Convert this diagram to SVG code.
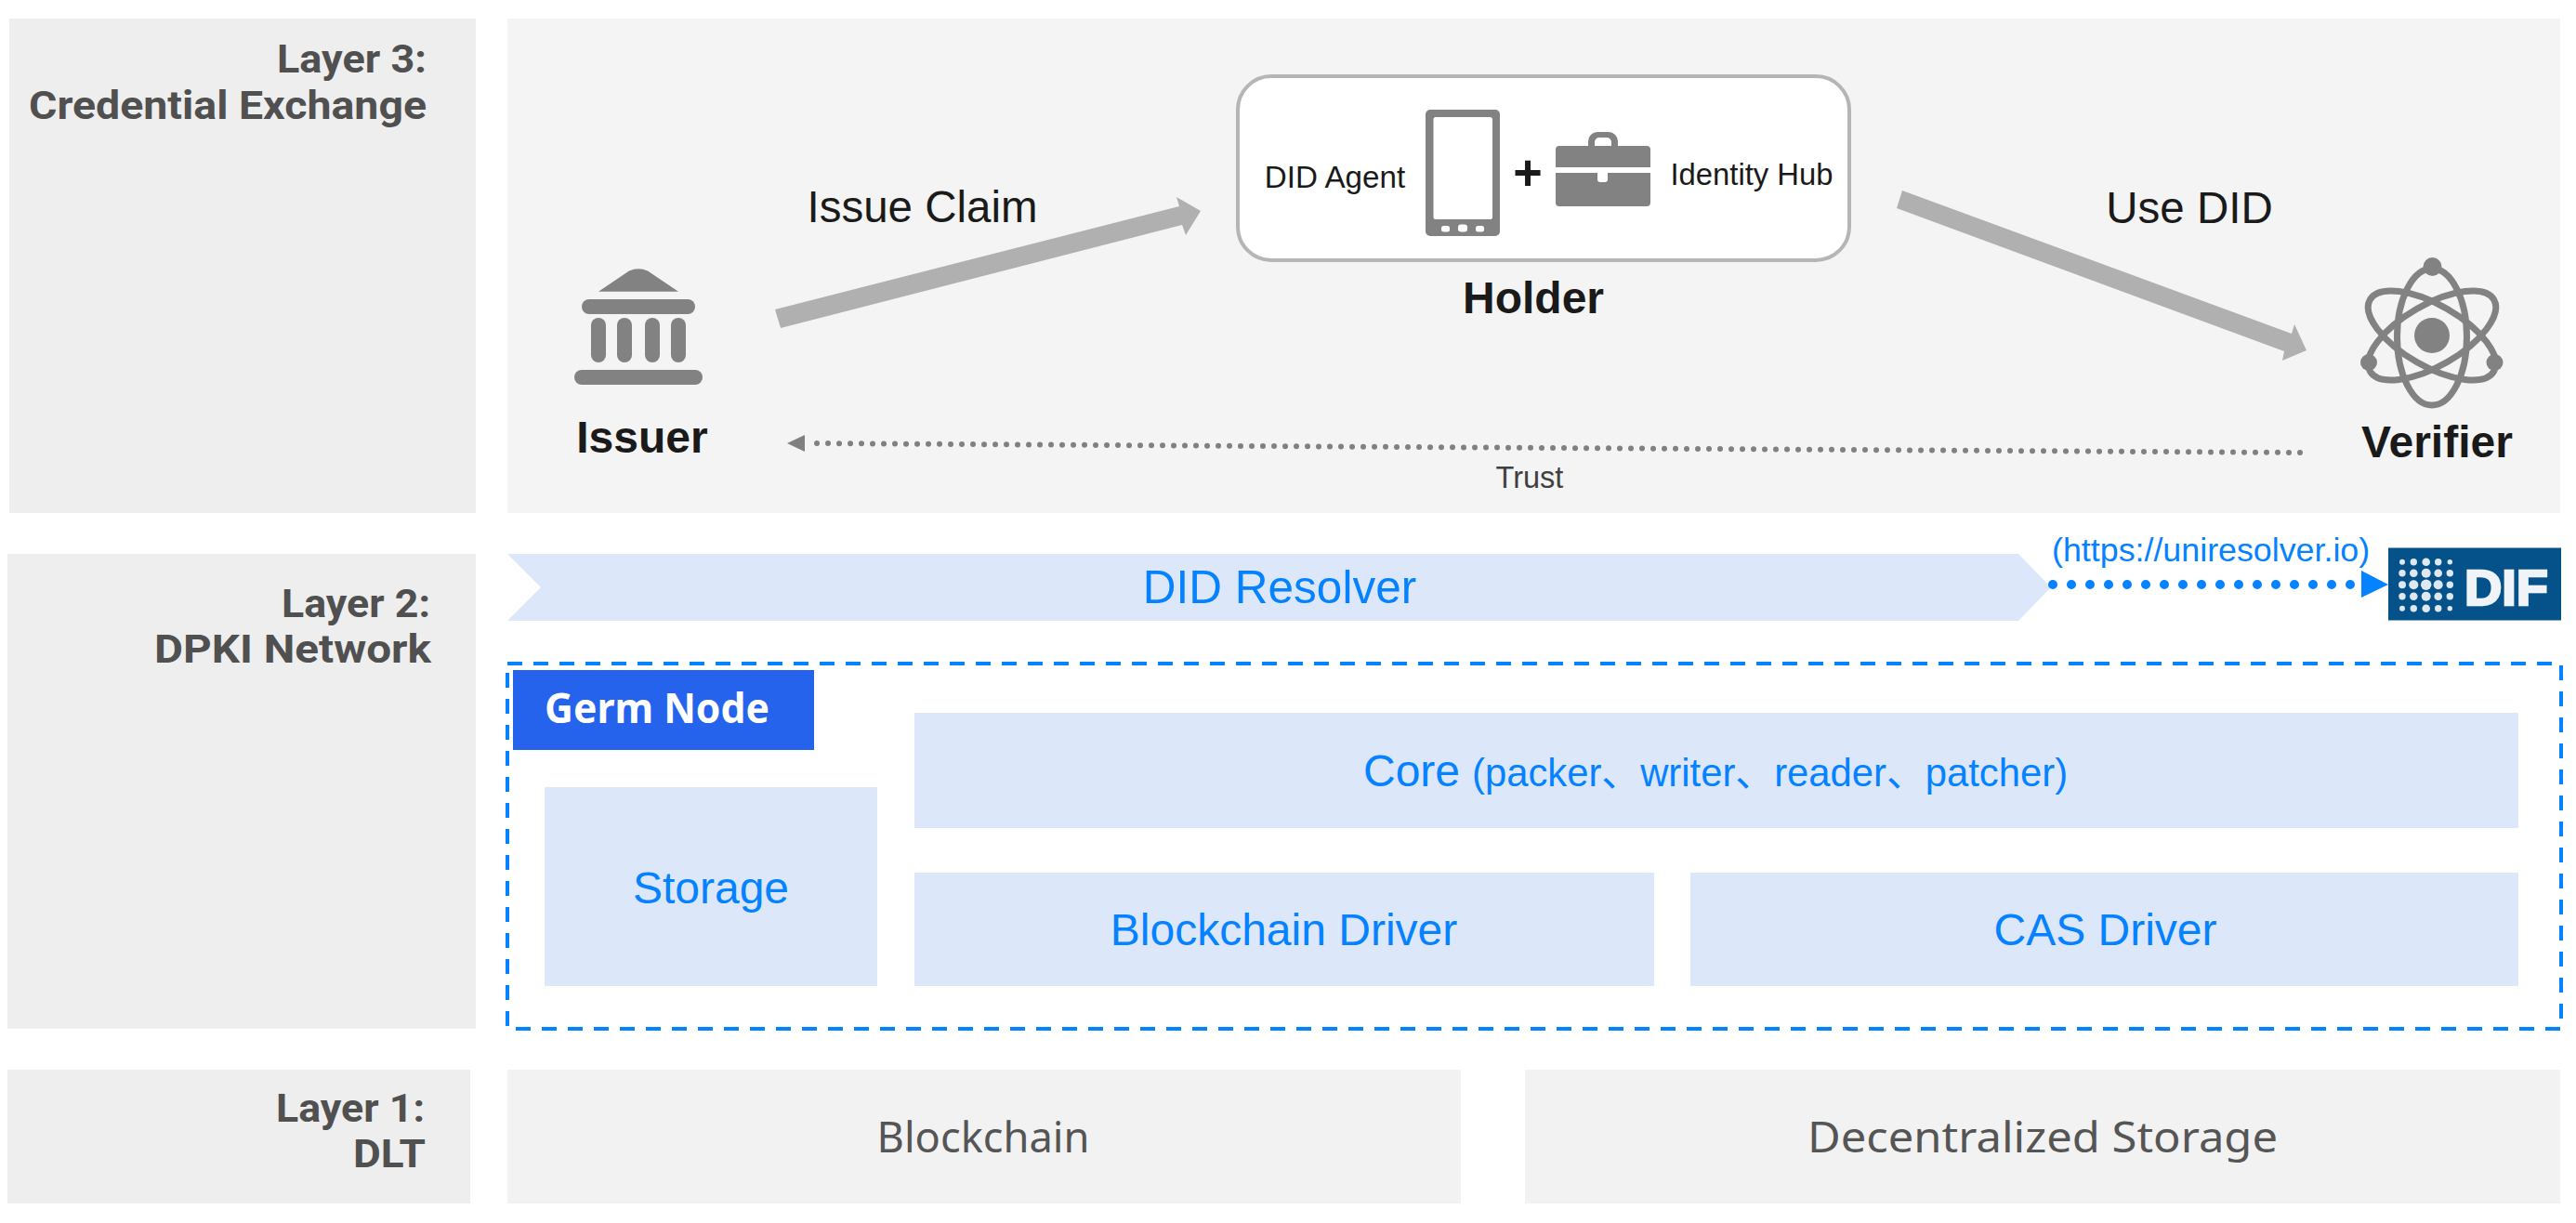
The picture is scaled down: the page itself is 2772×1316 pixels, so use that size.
<svg xmlns="http://www.w3.org/2000/svg" width="2772" height="1316" viewBox="0 0 2772 1316">
<style>
text{font-family:"Liberation Sans",Arial,sans-serif}
.lay{font-family:Roboto,"Noto Sans",sans-serif;font-weight:700;font-size:43px;fill:#505050;text-anchor:end}
.side{fill:#eeeeee}
.main{fill:#f4f4f4}
.dlt{fill:#f2f2f2}
.dltt{font-family:"Noto Sans","Open Sans",sans-serif;font-size:46px;fill:#555555;text-anchor:middle}
.soft{fill:#dce7fa}
.blue{fill:#0582ff;font-size:48px;text-anchor:middle}
.dark{fill:#1a1a1a;text-anchor:middle}
.actor{font-weight:700;font-size:48px}
.edge{font-size:47.500px}
.sm{font-size:33.200px}
.ic{fill:#828282}
.orb{fill:none;stroke:#828282;stroke-width:7}
.arrow{fill:#b0b0b0}
.d{fill:#dfe8f0}
</style>
<rect width="2772" height="1316" fill="#ffffff"/>

<g id="layer3">
  <rect class="side" x="10" y="20" width="502" height="532"/>
  <rect class="main" x="546" y="20" width="2209" height="532"/>
  <text class="lay" x="459" y="78" textLength="161" lengthAdjust="spacingAndGlyphs">Layer 3:</text>
  <text class="lay" x="459" y="128" textLength="428" lengthAdjust="spacingAndGlyphs">Credential Exchange</text>
</g>
<g id="layer2">
  <rect class="side" x="8" y="596" width="504" height="511"/>
  <text class="lay" x="463" y="664" textLength="160" lengthAdjust="spacingAndGlyphs">Layer 2:</text>
  <text class="lay" x="464" y="713" textLength="298" lengthAdjust="spacingAndGlyphs">DPKI Network</text>
</g>
<g id="layer1">
  <rect class="side" x="8" y="1151" width="498" height="144"/>
  <text class="lay" x="457" y="1207" textLength="160" lengthAdjust="spacingAndGlyphs">Layer 1:</text>
  <text class="lay" x="458" y="1256" textLength="78" lengthAdjust="spacingAndGlyphs">DLT</text>
</g>

<g id="issuer">
  <path class="ic" d="M644,313.700H730L697,291.500Q687,287 677,291.500Z"/>
  <rect class="ic" x="626" y="322" width="122" height="16" rx="8"/>
  <rect class="ic" x="636" y="342" width="16" height="48" rx="8"/>
  <rect class="ic" x="664" y="342" width="16" height="48" rx="8"/>
  <rect class="ic" x="694" y="342" width="16" height="48" rx="8"/>
  <rect class="ic" x="722" y="342" width="16" height="48" rx="8"/>
  <rect class="ic" x="618" y="398" width="138" height="16" rx="8"/>
  <text class="dark actor" x="691" y="487">Issuer</text>
</g>

<g id="holder">
  <rect x="1332" y="82" width="658" height="198" rx="36" fill="#ffffff" stroke="#b5b5b5" stroke-width="4"/>
  <text class="dark sm" x="1436.500" y="202">DID Agent</text>
  <path class="ic" fill-rule="evenodd" d="M1539,118H1609a5,5 0 0 1 5,5V249a5,5 0 0 1 -5,5H1539a5,5 0 0 1 -5,-5V123a5,5 0 0 1 5,-5ZM1545,126a2.500,2.500 0 0 0 -2.500,2.500V233.500a2.500,2.500 0 0 0 2.500,2.500H1603.500a2.500,2.500 0 0 0 2.500,-2.500V128.500a2.500,2.500 0 0 0 -2.500,-2.500Z"/>
  <rect x="1551" y="243" width="9" height="6.500" rx="2.500" fill="#ffffff"/>
  <rect x="1569" y="241.500" width="10" height="8" rx="3" fill="#ffffff"/>
  <rect x="1588" y="243" width="9" height="6.500" rx="2.500" fill="#ffffff"/>
  <text class="dark" x="1644" y="204" font-size="54" font-weight="700">+</text>
  <path class="ic" fill-rule="evenodd" d="M1709,157V152a10,10 0 0 1 10,-10H1731a10,10 0 0 1 10,10V157H1734V153a5,5 0 0 0 -5,-5H1721a5,5 0 0 0 -5,5V157Z"/>
  <path class="ic" d="M1678,157H1772a4,4 0 0 1 4,4V180H1674V161a4,4 0 0 1 4,-4Z"/>
  <path class="ic" d="M1674,186H1719V193a3,3 0 0 0 3,3H1727a3,3 0 0 0 3,-3V186H1776V218a4,4 0 0 1 -4,4H1678a4,4 0 0 1 -4,-4Z"/>
  <text class="dark sm" x="1885" y="199" style="font-size:32.800px">Identity Hub</text>
  <text class="dark actor" x="1650" y="337">Holder</text>
</g>

<g id="verifier">
  <g transform="translate(2617,361)">
    <ellipse class="orb" cy="1.500" rx="37.500" ry="73.500"/>
    <ellipse class="orb" rx="33" ry="77" transform="rotate(60)"/>
    <ellipse class="orb" rx="33" ry="77" transform="rotate(-60)"/>
    <circle class="ic" r="19"/>
    <circle class="ic" cx="0.500" cy="-74" r="10"/>
    <circle class="ic" cx="-68" cy="29" r="9"/>
    <circle class="ic" cx="67.500" cy="29" r="9"/>
  </g>
  <text class="dark actor" x="2622.500" y="492">Verifier</text>
</g>

<g id="did-resolver">
  <path class="soft" d="M546,596H2172L2207,632L2172,668H546L582,632Z"/>
  <text class="blue" x="1377" y="649" style="font-size:49.500px">DID Resolver</text>
</g>

<g id="dif">
  <rect x="2570" y="589.500" width="186" height="78" fill="#05528a"/>
  <g class="d">
    <circle cx="2585" cy="604.700" r="3"/><circle cx="2597.300" cy="604.700" r="3.700"/><circle cx="2610.700" cy="604.700" r="4.300"/><circle cx="2623.700" cy="604.700" r="3.700"/><circle cx="2636.300" cy="604.700" r="2.700"/>
    <circle cx="2585" cy="616.700" r="3.700"/><circle cx="2597.300" cy="616.700" r="4.300"/><circle cx="2610.700" cy="616.700" r="5"/><circle cx="2623.700" cy="616.700" r="4.300"/><circle cx="2636.300" cy="616.700" r="3.700"/>
    <circle cx="2585" cy="629.300" r="4"/><circle cx="2597.300" cy="629.300" r="5"/><circle cx="2610.700" cy="629.300" r="5.700"/><circle cx="2623.700" cy="629.300" r="5"/><circle cx="2636.300" cy="629.300" r="3.700"/>
    <circle cx="2585" cy="641.700" r="3.700"/><circle cx="2597.300" cy="641.700" r="4.300"/><circle cx="2610.700" cy="641.700" r="5"/><circle cx="2623.700" cy="641.700" r="4.300"/><circle cx="2636.300" cy="641.700" r="3.700"/>
    <circle cx="2585" cy="654.700" r="3"/><circle cx="2597.300" cy="654.700" r="3.700"/><circle cx="2610.700" cy="654.700" r="4.300"/><circle cx="2623.700" cy="654.700" r="3.700"/><circle cx="2636.300" cy="654.700" r="2.700"/>
  </g>
  <text x="2652" y="651" font-size="54.500" font-weight="700" fill="#f0f4f8" stroke="#f0f4f8" stroke-width="2.500" textLength="90" lengthAdjust="spacingAndGlyphs">DIF</text>
</g>

<g id="germ-node">
  <rect x="546" y="714" width="2210" height="393" fill="none" stroke="#0582ff" stroke-width="4" stroke-dasharray="16 12"/>
  <rect x="552" y="721" width="324" height="86" fill="#2563ec"/>
  <text x="586" y="778" font-size="44" font-weight="700" fill="#ffffff" style="font-family:'Noto Sans','Open Sans',sans-serif" textLength="242" lengthAdjust="spacingAndGlyphs">Germ Node</text>
</g>
<g id="storage">
  <rect class="soft" x="586" y="847" width="358" height="214"/>
  <text class="blue" x="765" y="972">Storage</text>
</g>
<g id="core">
  <rect class="soft" x="984" y="767" width="1726" height="124"/>
  <text class="blue" x="1467" y="846" style="text-anchor:start">Core</text>
  <text class="blue" x="1584" y="846" style="text-anchor:start;font-size:41.800px;font-family:'Liberation Sans','Noto Sans CJK SC',sans-serif">(packer、writer、reader、patcher)</text>
</g>
<g id="blockchain-driver">
  <rect class="soft" x="984" y="939" width="796" height="122"/>
  <text class="blue" x="1381.500" y="1017">Blockchain Driver</text>
</g>
<g id="cas-driver">
  <rect class="soft" x="1819" y="939" width="891" height="122"/>
  <text class="blue" x="2265.500" y="1017">CAS Driver</text>
</g>

<g id="blockchain">
  <rect class="dlt" x="546" y="1151" width="1026" height="144"/>
  <text class="dltt" x="1058" y="1240" textLength="229" lengthAdjust="spacingAndGlyphs">Blockchain</text>
</g>
<g id="decentralized-storage">
  <rect class="dlt" x="1641" y="1151" width="1114" height="144"/>
  <text class="dltt" x="2198" y="1240" textLength="506" lengthAdjust="spacingAndGlyphs">Decentralized Storage</text>
</g>

<g id="connectors">
  <path class="arrow" d="M834,333L1269,222L1266,212L1292,227L1276,253L1272,242L840,353Z"/>
  <path class="arrow" d="M2047,205L2466,359L2469,349L2482,377L2456,388L2458,378L2041,224Z"/>
  <line x1="2475" y1="487" x2="873" y2="477" stroke="#808080" stroke-width="6" stroke-linecap="round" stroke-dasharray="0 12"/>
  <polygon points="847,477 866,468 866,486" fill="#808080"/>
  <line x1="2209" y1="629" x2="2530" y2="629" stroke="#0582ff" stroke-width="10" stroke-linecap="round" stroke-dasharray="0 20"/>
  <polygon points="2541,614 2570,629 2541,643" fill="#0582ff"/>
</g>
<g id="connector-labels">
  <text class="dark edge" x="992.500" y="239">Issue Claim</text>
  <text class="dark edge" x="2356" y="240">Use DID</text>
  <text x="1646" y="525" font-size="32.500" fill="#404040" text-anchor="middle">Trust</text>
  <text x="2208" y="604" font-size="35.800" fill="#0582ff">(https://uniresolver.io)</text>
</g>
</svg>
